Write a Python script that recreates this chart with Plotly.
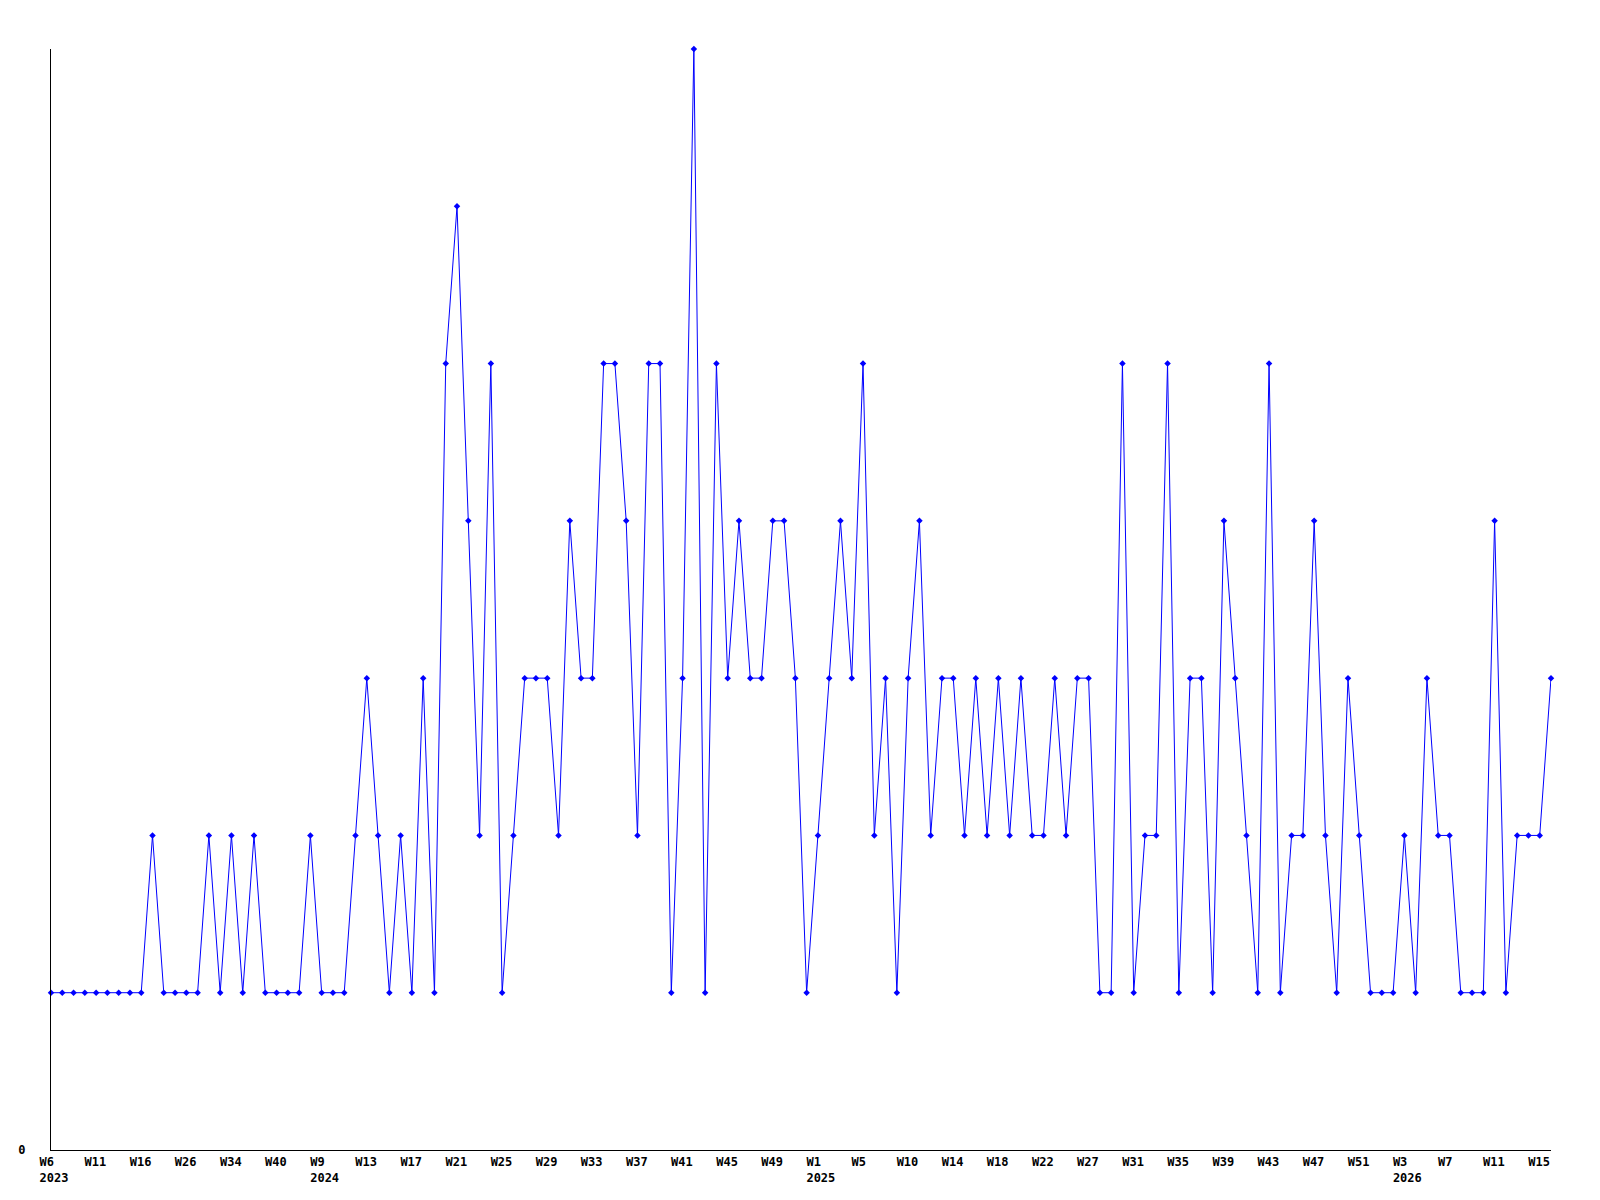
import plotly.graph_objects as go

# Week categories (only weeks with data appear on the axis)
weeks_2023 = ["W6", "W7", "W8", "W10", "W11", "W12", "W14", "W15", "W16", "W18", "W21", "W24",
              "W26", "W28", "W30", "W32", "W34", "W36", "W37", "W39", "W40", "W43", "W47", "W50"]
weeks_2024 = ["W%d" % w for w in range(9, 53)]
weeks_2025 = (["W1", "W2", "W3", "W4", "W5", "W6", "W7", "W9"] +
              ["W%d" % w for w in range(10, 25)] + ["W26"] +
              ["W%d" % w for w in range(27, 53)])
weeks_2026 = ["W%d" % w for w in range(1, 17)]

years = [("2023", weeks_2023), ("2024", weeks_2024), ("2025", weeks_2025), ("2026", weeks_2026)]

values = [
    1, 1, 1, 1, 1, 1, 1, 1, 1, 2,
    1, 1, 1, 1, 2, 1, 2, 1, 2, 1,
    1, 1, 1, 2, 1, 1, 1, 2, 3, 2,
    1, 2, 1, 3, 1, 5, 6, 4, 2, 5,
    1, 2, 3, 3, 3, 2, 4, 3, 3, 5,
    5, 4, 2, 5, 5, 1, 3, 7, 1, 5,
    3, 4, 3, 3, 4, 4, 3, 1, 2, 3,
    4, 3, 5, 2, 3, 1, 3, 4, 2, 3,
    3, 2, 3, 2, 3, 2, 3, 2, 2, 3,
    2, 3, 3, 1, 1, 5, 1, 2, 2, 5,
    1, 3, 3, 1, 4, 3, 2, 1, 5, 1,
    2, 2, 4, 2, 1, 3, 2, 1, 1, 1,
    2, 1, 3, 2, 2, 1, 1, 1, 4, 1,
    2, 2, 2, 3,
]

categories = []
labels = []
for yr, wk in years:
    for j, w in enumerate(wk):
        categories.append("%s-%s" % (yr, w))
        labels.append((w, yr, j == 0))

tickvals = []
ticktext = []
prev_year = None
for i in range(0, len(categories), 4):
    w, yr, _ = labels[i]
    tickvals.append(categories[i])
    if yr != prev_year:
        ticktext.append("%s<br>%s" % (w, yr))
    else:
        ticktext.append(w)
    prev_year = yr

font = dict(family="DejaVu Sans Mono", size=12, color="black", weight="bold")

fig = go.Figure()
fig.add_trace(go.Scatter(
    x=categories, y=values, mode="lines+markers",
    line=dict(color="#0000FF", width=1),
    marker=dict(symbol="diamond", size=5, color="#0000FF"),
    cliponaxis=False, showlegend=False,
))

fig.update_layout(
    width=1600, height=1200,
    paper_bgcolor="white", plot_bgcolor="white",
    margin=dict(l=43, r=57, t=41, b=58),
    font=font,
)
fig.update_xaxes(
    type="category", range=[0, len(categories) - 1], automargin=False,
    tickmode="array", tickvals=tickvals, ticktext=ticktext,
    showline=True, linecolor="black", linewidth=1, showgrid=False, zeroline=False,
    ticks="", ticklabelposition="outside right", ticklabelshift=-12, ticklabelstandoff=1,
    tickfont=font,
)
fig.update_yaxes(
    range=[0, 7], tickmode="array", tickvals=[0], ticktext=["0"], automargin=False,
    showline=True, linecolor="black", linewidth=1, showgrid=False, zeroline=False,
    ticks="", ticklabelstandoff=22, tickfont=font,
)

fig.write_html("out.html")
